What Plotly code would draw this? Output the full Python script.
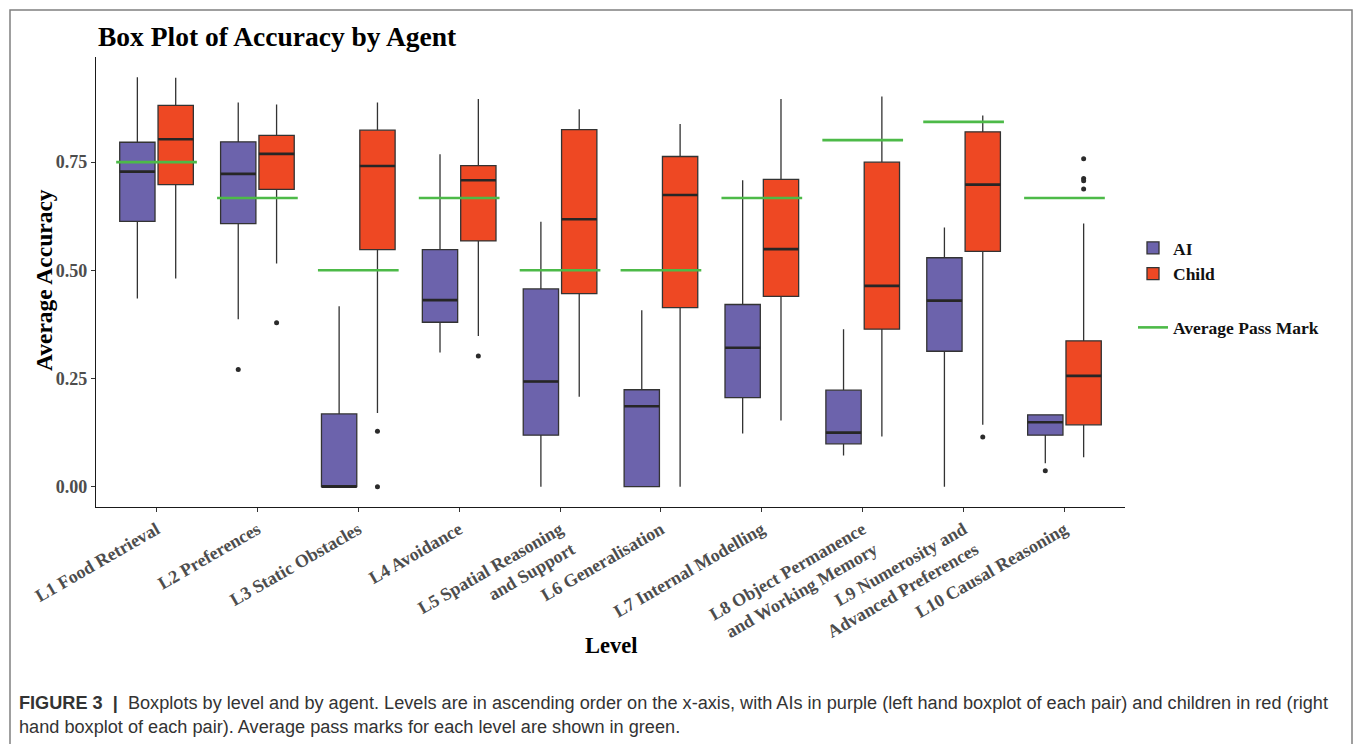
import plotly.graph_objects as go

# ---- data -------------------------------------------------------------
levels = [
    "L1 Food Retrieval",
    "L2 Preferences",
    "L3 Static Obstacles",
    "L4 Avoidance",
    "L5 Spatial Reasoning<br>and Support",
    "L6 Generalisation",
    "L7 Internal Modelling",
    "L8 Object Permanence<br>and Working Memory",
    "L9 Numerosity and<br>Advanced Preferences",
    "L10 Causal Reasoning",
]

ai_lower = [0.435, 0.387, 0.000, 0.310, 0.000, 0.000, 0.123, 0.072, 0.000, 0.054]
ai_q1 = [0.613, 0.608, 0.000, 0.380, 0.119, 0.000, 0.206, 0.099, 0.313, 0.119]
ai_median = [0.728, 0.723, 0.000, 0.431, 0.243, 0.186, 0.321, 0.125, 0.430, 0.149]
ai_q3 = [0.796, 0.797, 0.168, 0.548, 0.457, 0.224, 0.421, 0.223, 0.529, 0.166]
ai_upper = [0.946, 0.888, 0.417, 0.768, 0.612, 0.408, 0.708, 0.364, 0.599, 0.166]

child_lower = [0.481, 0.516, 0.170, 0.348, 0.208, 0.000, 0.153, 0.116, 0.143, 0.068]
child_q1 = [0.698, 0.687, 0.548, 0.568, 0.446, 0.414, 0.440, 0.364, 0.544, 0.143]
child_median = [0.803, 0.769, 0.741, 0.708, 0.618, 0.674, 0.549, 0.464, 0.698, 0.256]
child_q3 = [0.881, 0.812, 0.824, 0.742, 0.825, 0.763, 0.710, 0.750, 0.820, 0.337]
child_upper = [0.945, 0.883, 0.888, 0.896, 0.872, 0.838, 0.896, 0.902, 0.858, 0.608]

# outliers: (level number, value)
ai_outliers = [(2, 0.271), (10, 0.037)]
child_outliers = [(2, 0.379), (3, 0.128), (3, 0.000), (4, 0.302), (9, 0.115),
                  (10, 0.758), (10, 0.712), (10, 0.707), (10, 0.688)]

pass_mark = [0.750, 0.667, 0.500, 0.667, 0.500, 0.500, 0.667, 0.801, 0.843, 0.667]

# ---- styling / geometry -------------------------------------------------
W, H = 1358, 744
PLOT_L, PLOT_R, PLOT_T, PLOT_B = 96, 1125, 57, 507
AI_COLOR = "#6C63AC"
CHILD_COLOR = "#EE4823"
PASS_COLOR = "#4DBA48"
EDGE = "#333333"
SERIF = "Liberation Serif"
DODGE = 0.19
BOX_W = 0.35


def px_x(px):
    return (px - PLOT_L) / (PLOT_R - PLOT_L)


def px_y(py):
    return (PLOT_B - py) / (PLOT_B - PLOT_T)


pos = list(range(1, len(levels) + 1))
ai_pos = [p - DODGE for p in pos]
child_pos = [p + DODGE for p in pos]

fig = go.Figure()


def add_boxes(name, xs, lo, q1, med, q3, hi, color):
    fig.add_trace(go.Box(
        name=name, x=xs, q1=q1, median=med, q3=q3,
        lowerfence=lo, upperfence=hi,
        width=BOX_W, whiskerwidth=0, boxpoints=False,
        fillcolor=color, line=dict(color=EDGE, width=1.3),
        legendgroup="agent", showlegend=True,
    ))


def add_medians(xs, med):
    mx, my = [], []
    for x, m in zip(xs, med):
        mx += [x - BOX_W / 2, x + BOX_W / 2, None]
        my += [m, m, None]
    fig.add_trace(go.Scatter(x=mx, y=my, mode="lines",
                             line=dict(color="#262626", width=2.6),
                             showlegend=False, hoverinfo="skip"))


def add_outliers(points, offset):
    fig.add_trace(go.Scatter(
        x=[lv + offset for lv, _ in points], y=[v for _, v in points],
        mode="markers", marker=dict(color="#2b2b2b", size=5),
        showlegend=False, hoverinfo="skip"))


add_boxes("AI", ai_pos, ai_lower, ai_q1, ai_median, ai_q3, ai_upper, AI_COLOR)
add_boxes("Child", child_pos, child_lower, child_q1, child_median, child_q3,
          child_upper, CHILD_COLOR)
add_medians(ai_pos, ai_median)
add_medians(child_pos, child_median)
add_outliers(ai_outliers, -DODGE)
add_outliers(child_outliers, DODGE)

# pass-mark segments across each level
px_, py_ = [], []
for p, v in zip(pos, pass_mark):
    px_ += [p - 0.4, p + 0.4, None]
    py_ += [v, v, None]
fig.add_trace(go.Scatter(x=px_, y=py_, mode="lines", name="Average Pass Mark",
                         line=dict(color=PASS_COLOR, width=2.6),
                         legendgroup="pass", showlegend=True))

axis_font = dict(family=SERIF, size=18, color="#4D4D4D", weight="bold")

fig.update_layout(
    width=W, height=H,
    margin=dict(l=PLOT_L, r=W - PLOT_R, t=PLOT_T, b=H - PLOT_B, pad=0),
    paper_bgcolor="white", plot_bgcolor="white",
    boxmode="overlay",
    showlegend=True,
    legend=dict(
        x=px_x(1133), y=px_y(230), xanchor="left", yanchor="top",
        font=dict(family=SERIF, size=17.5, color="#111111", weight="bold"),
        traceorder="grouped", tracegroupgap=28, itemwidth=30,
        bgcolor="rgba(0,0,0,0)",
    ),
    xaxis=dict(
        range=[0.4, 10.6], tickmode="array", tickvals=pos, ticktext=levels,
        tickangle=-30, tickfont=axis_font,
        showline=True, linecolor="#1a1a1a", linewidth=1.2,
        ticks="outside", ticklen=4, tickcolor="#333333",
        showgrid=False, zeroline=False,
    ),
    yaxis=dict(
        range=[-0.047, 0.993], tickmode="array", tickvals=[0, 0.25, 0.5, 0.75],
        ticktext=["0.00", "0.25", "0.50", "0.75"], tickfont=axis_font,
        showline=True, linecolor="#1a1a1a", linewidth=1.2,
        ticks="outside", ticklen=4, tickcolor="#333333",
        showgrid=False, zeroline=False,
    ),
    font=dict(family=SERIF),
)

annotations = [
    dict(text="Box Plot of Accuracy by Agent", x=0, y=px_y(37),
         xanchor="left", yanchor="middle",
         font=dict(family=SERIF, size=27.5, color="black", weight="bold")),
    dict(text="Average Accuracy", x=px_x(44), y=px_y(280), textangle=-90,
         xanchor="center", yanchor="middle",
         font=dict(family=SERIF, size=23.5, color="black", weight="bold")),
    dict(text="Level", x=0.5, y=px_y(645), xanchor="center", yanchor="middle",
         font=dict(family=SERIF, size=22.5, color="black", weight="bold")),
    dict(text="<b>FIGURE 3</b>  <b>|</b>  Boxplots by level and by agent. Levels are in "
              "ascending order on the x-axis, with AIs in purple (left hand boxplot of "
              "each pair) and children in red (right",
         x=px_x(17), y=px_y(703), xanchor="left", yanchor="middle",
         font=dict(family="Liberation Sans", size=18.15, color="#333333")),
    dict(text="hand boxplot of each pair). Average pass marks for each level are shown in green.",
         x=px_x(17), y=px_y(727), xanchor="left", yanchor="middle",
         font=dict(family="Liberation Sans", size=18.15, color="#333333")),
]
for a in annotations:
    fig.add_annotation(xref="paper", yref="paper", showarrow=False, **a)

# outer frame of the figure panel
fig.add_shape(type="rect", xref="paper", yref="paper",
              x0=px_x(10), x1=px_x(1352), y0=px_y(760), y1=px_y(10),
              line=dict(color="#808080", width=1.5), fillcolor="rgba(0,0,0,0)",
              layer="below")

fig.write_html("out.html")
